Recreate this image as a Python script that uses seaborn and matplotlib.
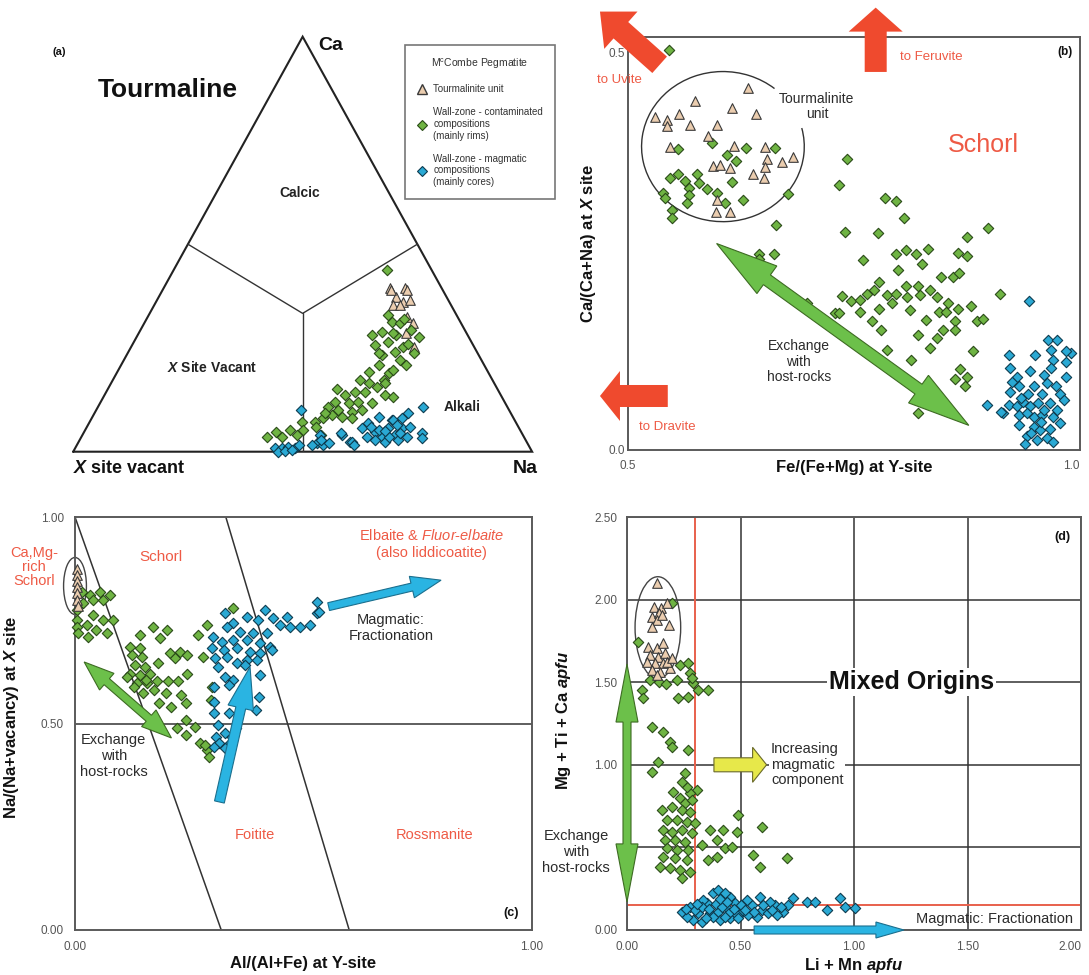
import numpy as np
import matplotlib
matplotlib.use("Agg")
import matplotlib.pyplot as plt
import seaborn as sns
from matplotlib.patches import Polygon, Ellipse, Arc
from matplotlib.lines import Line2D
from matplotlib.transforms import IdentityTransform
from matplotlib.ticker import FixedLocator, FormatStrFormatter

sns.set_style("white")
plt.rcParams["font.family"] = ["Liberation Sans", "DejaVu Sans"]
plt.rcParams["mathtext.fontset"] = "custom"
plt.rcParams["mathtext.rm"] = "Liberation Sans"
plt.rcParams["mathtext.it"] = "Liberation Sans:italic"
plt.rcParams["mathtext.bf"] = "Liberation Sans:bold"
plt.rcParams["mathtext.bfit"] = "Liberation Sans:italic:bold"

# ---------------------------------------------------------------- data
# (a) X-site ternary: Ca and Na fractions (vacancy = 1 - Ca - Na)
a_tour_ca = [0.394, 0.394, 0.373, 0.361, 0.353, 0.390, 0.390, 0.366, 0.353, 0.325, 0.309, 0.285, 0.253]
a_tour_na = [0.493, 0.526, 0.518, 0.539, 0.521, 0.498, 0.532, 0.552, 0.536, 0.565, 0.585, 0.582, 0.617]
a_cont_ca = [0.438, 0.281, 0.289, 0.313, 0.309, 0.281, 0.265, 0.257, 0.233, 0.241, 0.221, 0.209, 0.189, 0.193,
             0.173, 0.165, 0.157, 0.173, 0.145, 0.145, 0.137, 0.137, 0.120, 0.117, 0.120, 0.117, 0.108, 0.100,
             0.096, 0.100, 0.088, 0.084, 0.080, 0.080, 0.072, 0.072, 0.052, 0.040, 0.052, 0.048, 0.036, 0.036,
             0.040, 0.093, 0.285, 0.293, 0.277, 0.253, 0.237, 0.197, 0.237, 0.165, 0.133, 0.210, 0.260, 0.320,
             0.330, 0.150, 0.060]
a_cont_na = [0.464, 0.510, 0.528, 0.538, 0.558, 0.564, 0.554, 0.529, 0.556, 0.581, 0.602, 0.561, 0.593, 0.547,
             0.539, 0.561, 0.583, 0.590, 0.542, 0.564, 0.611, 0.524, 0.511, 0.542, 0.561, 0.592, 0.502, 0.528,
             0.559, 0.579, 0.519, 0.543, 0.567, 0.505, 0.491, 0.462, 0.475, 0.467, 0.446, 0.419, 0.404, 0.436,
             0.521, 0.502, 0.554, 0.589, 0.616, 0.593, 0.625, 0.598, 0.547, 0.598, 0.630, 0.620, 0.600, 0.560,
             0.520, 0.500, 0.500]
a_mag_ca = [0.100, 0.010, 0.008, 0.012, 0.008, 0.000, 0.002, 0.004, 0.016, 0.020, 0.016, 0.040, 0.040, 0.024,
            0.056, 0.036, 0.048, 0.036, 0.056, 0.040, 0.056, 0.076, 0.080, 0.028, 0.024, 0.028, 0.036, 0.093,
            0.108, 0.060, 0.044, 0.032, 0.044, 0.036, 0.052, 0.068, 0.084, 0.076, 0.016, 0.028, 0.020, 0.044,
            0.024, 0.016, 0.060, 0.050, 0.064]
a_mag_na = [0.446, 0.435, 0.451, 0.463, 0.479, 0.447, 0.461, 0.474, 0.483, 0.521, 0.537, 0.518, 0.565, 0.591,
            0.601, 0.622, 0.634, 0.654, 0.659, 0.681, 0.688, 0.656, 0.676, 0.644, 0.667, 0.694, 0.709, 0.682,
            0.709, 0.705, 0.737, 0.743, 0.690, 0.671, 0.640, 0.608, 0.624, 0.659, 0.513, 0.527, 0.547, 0.562,
            0.595, 0.603, 0.620, 0.655, 0.673]

# (b) Fe/(Fe+Mg) at Y vs Ca/(Ca+Na) at X
b_tour_fe = [0.633, 0.574, 0.615, 0.642, 0.530, 0.556, 0.543, 0.543, 0.569, 0.598, 0.588, 0.546, 0.617,
             0.652, 0.654, 0.670, 0.682, 0.594, 0.602, 0.613, 0.638, 0.650, 0.652, 0.598, 0.597, 0.613]
b_tour_ca = [0.456, 0.440, 0.431, 0.423, 0.419, 0.423, 0.416, 0.408, 0.409, 0.409, 0.395, 0.382, 0.383,
             0.381, 0.367, 0.363, 0.369, 0.357, 0.359, 0.355, 0.348, 0.342, 0.356, 0.315, 0.300, 0.300]
b_cont_fe = [0.545, 0.555, 0.593, 0.631, 0.663, 0.610, 0.620, 0.555, 0.546, 0.576,
             0.563, 0.578, 0.568, 0.587, 0.539, 0.598, 0.541, 0.568, 0.565, 0.615,
             0.607, 0.627, 0.677, 0.549, 0.549, 0.664, 0.742, 0.733, 0.740, 0.645,
             0.661, 0.645, 0.760, 0.698, 0.729, 0.821, 0.784, 0.797, 0.805, 0.777,
             0.875, 0.898, 0.797, 0.808, 0.819, 0.832, 0.825, 0.865, 0.875, 0.799,
             0.846, 0.860, 0.866, 0.778, 0.772, 0.807, 0.821, 0.834, 0.737, 0.747,
             0.757, 0.764, 0.786, 0.797, 0.809, 0.823, 0.842, 0.854, 0.865, 0.879,
             0.912, 0.733, 0.757, 0.778, 0.792, 0.812, 0.830, 0.844, 0.852, 0.770,
             0.780, 0.821, 0.862, 0.862, 0.886, 0.893, 0.849, 0.842, 0.834, 0.786,
             0.813, 0.882, 0.867, 0.862, 0.873, 0.875]
b_cont_ca = [0.504, 0.379, 0.387, 0.380, 0.380, 0.372, 0.364, 0.348, 0.342, 0.348,
             0.339, 0.336, 0.330, 0.328, 0.323, 0.323, 0.317, 0.321, 0.311, 0.337,
             0.311, 0.315, 0.322, 0.302, 0.292, 0.283, 0.366, 0.334, 0.275, 0.247,
             0.247, 0.240, 0.239, 0.185, 0.172, 0.046, 0.317, 0.314, 0.292, 0.273,
             0.268, 0.280, 0.247, 0.252, 0.247, 0.253, 0.234, 0.248, 0.244, 0.227,
             0.218, 0.218, 0.223, 0.211, 0.202, 0.206, 0.206, 0.201, 0.194, 0.187,
             0.189, 0.197, 0.195, 0.197, 0.193, 0.195, 0.193, 0.185, 0.178, 0.181,
             0.197, 0.173, 0.174, 0.177, 0.185, 0.176, 0.164, 0.174, 0.174, 0.162,
             0.151, 0.145, 0.162, 0.151, 0.162, 0.165, 0.151, 0.141, 0.128, 0.126,
             0.113, 0.125, 0.102, 0.090, 0.080, 0.092]
b_mag_fe = [0.944, 0.965, 0.975, 0.968, 0.970, 0.985, 0.921, 0.923, 0.930, 0.933,
            0.943, 0.949, 0.958, 0.963, 0.974, 0.978, 0.982, 0.897, 0.915, 0.921,
            0.930, 0.937, 0.945, 0.954, 0.967, 0.933, 0.941, 0.949, 0.958, 0.970,
            0.978, 0.932, 0.949, 0.956, 0.967, 0.941, 0.952, 0.963, 0.939, 0.970,
            0.913, 0.923, 0.968, 0.984, 0.990, 0.925, 0.945, 0.960, 0.950, 0.935,
            0.960, 0.975, 0.985, 0.957, 0.946]
b_mag_ca = [0.188, 0.139, 0.139, 0.126, 0.113, 0.111, 0.120, 0.103, 0.092, 0.080,
            0.071, 0.080, 0.071, 0.084, 0.080, 0.071, 0.063, 0.057, 0.046, 0.057,
            0.055, 0.061, 0.055, 0.059, 0.059, 0.044, 0.046, 0.042, 0.044, 0.042,
            0.034, 0.031, 0.029, 0.025, 0.027, 0.017, 0.013, 0.015, 0.008, 0.010,
            0.048, 0.073, 0.103, 0.092, 0.122, 0.085, 0.100, 0.095, 0.120, 0.065,
            0.050, 0.050, 0.125, 0.035, 0.022]

# (c) Al/(Al+Fe) at Y vs Na/(Na+vacancy) at X
c_tour_al = [0.004, 0.004, 0.004, 0.005, 0.005, 0.005, 0.006]
c_tour_na = [0.875, 0.860, 0.845, 0.830, 0.815, 0.800, 0.785]
c_cont_al = [0.015, 0.033, 0.055, 0.077, 0.018, 0.040, 0.062, 0.004, 0.040, 0.062, 0.084, 0.005, 0.004,
             0.026, 0.047, 0.069, 0.007, 0.029, 0.142, 0.171, 0.201, 0.186, 0.120, 0.142, 0.124, 0.146,
             0.131, 0.153, 0.120, 0.142, 0.164, 0.182, 0.208, 0.219, 0.230, 0.244, 0.244, 0.204, 0.226,
             0.135, 0.157, 0.179, 0.270, 0.288, 0.281, 0.299, 0.346, 0.242, 0.184, 0.211, 0.242, 0.262,
             0.242, 0.274, 0.289, 0.293, 0.285, 0.223, 0.199, 0.231, 0.149, 0.297, 0.113, 0.129, 0.172,
             0.156]
c_cont_na = [0.819, 0.811, 0.819, 0.811, 0.791, 0.799, 0.799, 0.775, 0.763, 0.751, 0.751, 0.751, 0.734,
             0.738, 0.726, 0.718, 0.718, 0.710, 0.714, 0.734, 0.726, 0.706, 0.686, 0.682, 0.666, 0.662,
             0.642, 0.637, 0.621, 0.617, 0.621, 0.646, 0.670, 0.658, 0.674, 0.666, 0.621, 0.602, 0.602,
             0.597, 0.597, 0.602, 0.714, 0.738, 0.662, 0.589, 0.779, 0.549, 0.549, 0.541, 0.508, 0.492,
             0.472, 0.452, 0.436, 0.420, 0.448, 0.488, 0.573, 0.569, 0.573, 0.557, 0.613, 0.589, 0.581,
             0.605]
c_mag_al = [0.328, 0.346, 0.376, 0.416, 0.401, 0.434, 0.463, 0.492, 0.514, 0.529, 0.529, 0.449, 0.470,
            0.332, 0.361, 0.390, 0.420, 0.303, 0.321, 0.346, 0.376, 0.405, 0.427, 0.299, 0.325, 0.354,
            0.383, 0.405, 0.306, 0.332, 0.354, 0.376, 0.398, 0.328, 0.346, 0.405, 0.372, 0.535, 0.395,
            0.305, 0.402, 0.305, 0.336, 0.313, 0.352, 0.309, 0.328, 0.344, 0.316, 0.340, 0.305, 0.328,
            0.305, 0.336, 0.430, 0.313]
c_mag_na = [0.767, 0.743, 0.759, 0.775, 0.751, 0.755, 0.759, 0.734, 0.738, 0.795, 0.767, 0.738, 0.734,
            0.734, 0.722, 0.718, 0.718, 0.710, 0.698, 0.702, 0.702, 0.694, 0.686, 0.682, 0.678, 0.682,
            0.674, 0.670, 0.658, 0.662, 0.646, 0.654, 0.654, 0.613, 0.605, 0.617, 0.642, 0.771, 0.533,
            0.553, 0.565, 0.525, 0.525, 0.496, 0.488, 0.468, 0.476, 0.468, 0.452, 0.452, 0.444, 0.440,
            0.589, 0.593, 0.678, 0.637]

# (d) Li + Mn apfu vs Mg + Ti + Ca apfu
d_tour_limn = [0.133, 0.118, 0.148, 0.177, 0.111, 0.140, 0.133, 0.185, 0.155, 0.109, 0.094, 0.131, 0.160,
               0.101, 0.138, 0.167, 0.087, 0.123, 0.160, 0.189, 0.109, 0.145, 0.175, 0.131, 0.197]
d_tour_mgtica = [2.098, 1.957, 1.947, 1.977, 1.896, 1.916, 1.876, 1.846, 1.906, 1.836, 1.715, 1.705, 1.735,
                 1.665, 1.654, 1.675, 1.624, 1.614, 1.614, 1.584, 1.574, 1.564, 1.624, 1.544, 1.645]
d_cont_limn = [0.050, 0.199, 0.065, 0.101, 0.072, 0.219, 0.233, 0.270, 0.278, 0.292, 0.314, 0.358, 0.226,
               0.270, 0.285, 0.109, 0.160, 0.189, 0.197, 0.270, 0.138, 0.109, 0.256, 0.307, 0.278, 0.233,
               0.256, 0.285, 0.153, 0.197, 0.241, 0.278, 0.175, 0.219, 0.263, 0.300, 0.160, 0.197, 0.241,
               0.285, 0.167, 0.211, 0.256, 0.329, 0.175, 0.219, 0.270, 0.160, 0.211, 0.263, 0.145, 0.189,
               0.233, 0.278, 0.241, 0.366, 0.395, 0.424, 0.490, 0.432, 0.461, 0.483, 0.358, 0.395, 0.556,
               0.586, 0.593, 0.704, 0.204, 0.263, 0.241, 0.140, 0.170]
d_cont_mgtica = [1.745, 1.977, 1.453, 1.513, 1.402, 1.513, 1.604, 1.614, 1.554, 1.493, 1.453, 1.453, 1.402,
                 1.412, 1.523, 1.231, 1.200, 1.140, 1.110, 1.090, 1.019, 0.958, 0.949, 0.848, 0.828, 0.797,
                 0.767, 0.787, 0.726, 0.746, 0.726, 0.716, 0.666, 0.666, 0.656, 0.646, 0.605, 0.595, 0.605,
                 0.585, 0.545, 0.545, 0.535, 0.515, 0.494, 0.484, 0.484, 0.444, 0.434, 0.424, 0.383, 0.373,
                 0.363, 0.353, 0.313, 0.605, 0.545, 0.605, 0.696, 0.494, 0.504, 0.595, 0.424, 0.444, 0.454,
                 0.383, 0.625, 0.434, 0.837, 0.868, 0.898, 1.500, 1.490]
d_mag_limn = [0.241, 0.278, 0.314, 0.351, 0.380, 0.402, 0.417, 0.366, 0.402, 0.439, 0.454, 0.476, 0.505,
              0.534, 0.549, 0.586, 0.593, 0.622, 0.652, 0.689, 0.733, 0.791, 0.880, 0.292, 0.329, 0.410,
              0.454, 0.336, 0.483, 0.527, 0.571, 0.659, 0.711, 0.432, 0.630, 0.263, 0.937, 0.960, 1.004,
              0.826, 0.300, 0.330, 0.360, 0.390, 0.420, 0.450, 0.470, 0.500, 0.520, 0.560, 0.600, 0.640,
              0.680, 0.380, 0.350, 0.430, 0.490, 0.260, 0.310, 0.410, 0.440]
d_mag_mgtica = [0.111, 0.141, 0.101, 0.161, 0.222, 0.242, 0.182, 0.101, 0.111, 0.131, 0.202, 0.161, 0.111,
                0.091, 0.151, 0.202, 0.121, 0.101, 0.151, 0.111, 0.192, 0.171, 0.121, 0.061, 0.050, 0.061,
                0.071, 0.182, 0.091, 0.182, 0.081, 0.091, 0.151, 0.222, 0.171, 0.081, 0.192, 0.141, 0.131,
                0.171, 0.120, 0.140, 0.130, 0.160, 0.140, 0.100, 0.130, 0.150, 0.120, 0.110, 0.150, 0.120,
                0.140, 0.080, 0.070, 0.080, 0.070, 0.130, 0.160, 0.190, 0.170]

# axis ticks
b_xticks = [0.5, 1.0]
b_yticks = [0.0, 0.5]
c_xticks = [0.0, 1.0]
c_yticks = [0.0, 0.5, 1.0]
d_xticks = [0.0, 0.5, 1.0, 1.5, 2.0]
d_yticks = [0.0, 0.5, 1.0, 1.5, 2.0, 2.5]

# ---------------------------------------------------------------- styles
GREEN_FC, GREEN_EC = "#6fb443", "#2a4a18"
BLUE_FC, BLUE_EC = "#2aa9d4", "#0d3b4f"
TRI_FC, TRI_EC = "#ebcdaf", "#3a3a3a"
RED = "#ef4a2e"
RED_TXT = "#ee5a45"
TXT = "#2b2b2b"

STYLES = {
    "cont": dict(marker="D", s=28, fc=GREEN_FC, ec=GREEN_EC),
    "mag": dict(marker="D", s=28, fc=BLUE_FC, ec=BLUE_EC),
    "tour": dict(marker="^", s=48, fc=TRI_FC, ec=TRI_EC),
}


def draw_points(ax, x, y, kind, z=3):
    st = STYLES[kind]
    sns.scatterplot(x=np.asarray(x, float), y=np.asarray(y, float), ax=ax, marker=st["marker"],
                    s=st["s"], color=st["fc"], edgecolor=st["ec"], linewidth=0.8,
                    legend=False, zorder=z, clip_on=False)


def block_arrow(ax, start, end, shaft, head_w, head_len, fc, ec="none", lw=0.8, double=False, z=4):
    """Filled block arrow between two data points; widths are in pixels."""
    p0 = ax.transData.transform(start)
    p1 = ax.transData.transform(end)
    d = p1 - p0
    u = d / np.hypot(*d)
    n = np.array([-u[1], u[0]])
    hs, hw = shaft / 2.0, head_w / 2.0
    b1 = p1 - u * head_len
    if double:
        b0 = p0 + u * head_len
        pts = [p0, b0 + n * hw, b0 + n * hs, b1 + n * hs, b1 + n * hw, p1,
               b1 - n * hw, b1 - n * hs, b0 - n * hs, b0 - n * hw]
    else:
        pts = [p0 + n * hs, b1 + n * hs, b1 + n * hw, p1, b1 - n * hw, b1 - n * hs, p0 - n * hs]
    ax.figure.add_artist(Polygon(np.array(pts), closed=True, transform=IdentityTransform(),
                                 facecolor=fc, edgecolor=ec, linewidth=lw, zorder=z))


def style_axes(ax, xt, yt, fmt, xpad=7, ypad=7):
    ax.xaxis.set_major_locator(FixedLocator(xt))
    ax.yaxis.set_major_locator(FixedLocator(yt))
    ax.xaxis.set_major_formatter(FormatStrFormatter(fmt))
    ax.yaxis.set_major_formatter(FormatStrFormatter(fmt))
    ax.tick_params(axis="both", length=0, labelsize=8.5, labelcolor="#555555")
    ax.tick_params(axis="x", pad=xpad)
    ax.tick_params(axis="y", pad=ypad)
    for sp in ax.spines.values():
        sp.set_color("#5a5a5a")
        sp.set_linewidth(1.4)


def tern(ca, na):
    ca = np.asarray(ca, float)
    na = np.asarray(na, float)
    return na + 0.5 * ca, ca


fig = plt.figure(figsize=(10.89, 9.75), dpi=100)
W, H = 1089.0, 975.0
ax_a = fig.add_axes([73.2 / W, 1 - 451.7 / H, 458.9 / W, 415 / H])
ax_b = fig.add_axes([628 / W, 1 - 450 / H, 452 / W, 413 / H])
ax_c = fig.add_axes([75 / W, 1 - 930 / H, 457 / W, 413 / H])
ax_d = fig.add_axes([627 / W, 1 - 930 / H, 454 / W, 413 / H])

# ---------------------------------------------------------------- (a) ternary
ax_a.set_xlim(0, 1)
ax_a.set_ylim(0, 1)
ax_a.axis("off")
ox, oy = tern([0, 1, 0, 0], [0, 0, 1, 0])
ax_a.plot(ox, oy, color="#222222", lw=1.5, solid_joinstyle="miter", clip_on=False)
fx, fy = tern([0.5, 1 / 3, 0.5], [0.0, 1 / 3, 0.5])
ax_a.plot(fx, fy, color="#333333", lw=1.0)
vx, vy = tern([1 / 3, 0.0], [1 / 3, 0.5])
ax_a.plot(vx, vy, color="#333333", lw=1.0)

x, y = tern(a_cont_ca, a_cont_na)
draw_points(ax_a, x, y, "cont")
x, y = tern(a_mag_ca, a_mag_na)
draw_points(ax_a, x, y, "mag")
x, y = tern(a_tour_ca, a_tour_na)
draw_points(ax_a, x, y, "tour", z=2.5)

ax_a.text(0.535, 0.98, "Ca", fontsize=14, fontweight="bold", ha="left", va="center", color="#111")
ax_a.text(0.0, -0.04, r"$\mathbfit{X}$ site vacant", fontsize=13, fontweight="bold",
          ha="left", va="center", color="#111")
ax_a.text(0.985, -0.04, "Na", fontsize=14, fontweight="bold", ha="center", va="center", color="#111")
ax_a.text(0.207, 0.872, "Tourmaline", fontsize=19, fontweight="bold", ha="center", va="center", color="#111")
ax_a.text(-0.031, 0.963, "(a)", fontsize=8, fontweight="bold", ha="center", va="center", color="#111")
ax_a.text(0.494, 0.623, "Calcic", fontsize=10, fontweight="bold", ha="center", va="center", color="#222")
ax_a.text(0.302, 0.204, r"$\mathbfit{X}$ Site Vacant", fontsize=10, fontweight="bold",
          ha="center", va="center", color="#222")
ax_a.text(0.848, 0.108, "Alkali", fontsize=10, fontweight="bold", ha="center", va="center", color="#222")

handles = [Line2D([], [], marker="^", ls="none", mfc=TRI_FC, mec=TRI_EC, ms=7, mew=1.0),
           Line2D([], [], marker="D", ls="none", mfc=GREEN_FC, mec=GREEN_EC, ms=5, mew=0.8),
           Line2D([], [], marker="D", ls="none", mfc=BLUE_FC, mec=BLUE_EC, ms=5, mew=0.8)]
labels = ["Tourmalinite unit",
          "Wall-zone - contaminated\ncompositions\n(mainly rims)",
          "Wall-zone - magmatic\ncompositions\n(mainly cores)"]
leg = fig.legend(handles, labels, title=r"M$^{\mathrm{c}}$Combe Pegmatite", loc="upper left",
                 bbox_to_anchor=(405 / W, 1 - 45 / H), frameon=True, fancybox=False,
                 edgecolor="#555555", fontsize=7, title_fontsize=7.5, handletextpad=0.7,
                 labelspacing=1.35, borderpad=1.2, handlelength=1.0, borderaxespad=0)
leg.get_frame().set_linewidth(1.2)
for t in leg.get_texts():
    t.set_color("#333333")
leg.get_title().set_color("#333333")

# ---------------------------------------------------------------- (b)
ax_b.set_xlim(0.5, 1.0)
ax_b.set_ylim(0.0, 0.52)
style_axes(ax_b, b_xticks, b_yticks, "%.1f", xpad=7, ypad=2)
draw_points(ax_b, b_cont_fe, b_cont_ca, "cont")
draw_points(ax_b, b_mag_fe, b_mag_ca, "mag")
draw_points(ax_b, b_tour_fe, b_tour_ca, "tour", z=3.5)
ax_b.set_xlabel("Fe/(Fe+Mg) at Y-site", fontsize=12, fontweight="bold", color="#111")
ax_b.xaxis.set_label_coords(0.5, -0.025)
ax_b.set_ylabel(r"Ca/(Ca+Na) at $\mathbfit{X}$ site", fontsize=12, fontweight="bold", color="#111")
ax_b.yaxis.set_label_coords(-0.066, 0.5)
ax_b.xaxis.get_major_ticks()[-1].label1.set_horizontalalignment("right")
ax_b.add_patch(Arc((0.605, 0.382), 0.180, 0.189, theta1=52, theta2=15, color="#333333", lw=1.0))
ax_b.text(0.709, 0.432, "Tourmalinite\nunit", fontsize=10, ha="center", va="center", color=TXT,
          linespacing=1.1)
ax_b.text(0.893, 0.384, "Schorl", fontsize=18, ha="center", va="center", color=RED_TXT)
ax_b.text(0.983, 0.501, "(b)", fontsize=8.5, fontweight="bold", ha="center", va="center", color="#111")
ax_b.text(0.689, 0.111, "Exchange\nwith\nhost-rocks", fontsize=10, ha="center", va="center",
          color=TXT, linespacing=1.15)
ax_b.text(0.490, 0.466, "to Uvite", fontsize=9.5, ha="center", va="center", color=RED_TXT)
ax_b.text(0.835, 0.495, "to Feruvite", fontsize=9.5, ha="center", va="center", color=RED_TXT)
ax_b.text(0.544, 0.029, "to Dravite", fontsize=9.5, ha="center", va="center", color=RED_TXT)
block_arrow(ax_b, (0.598, 0.260), (0.877, 0.031), 12, 34, 62, "#6cc04a", "#3d6b22", 0.8, double=True)
block_arrow(ax_b, (0.535, 0.485), (0.469, 0.552), 22, 50, 28, RED)
block_arrow(ax_b, (0.774, 0.476), (0.774, 0.557), 22, 54, 24, RED)
block_arrow(ax_b, (0.544, 0.068), (0.469, 0.068), 22, 50, 20, RED)

# ---------------------------------------------------------------- (c)
ax_c.set_xlim(0, 1)
ax_c.set_ylim(0, 1)
style_axes(ax_c, c_xticks, c_yticks, "%.2f", xpad=8, ypad=8)
ax_c.plot([0.0, 0.32], [1.0, 0.0], color="#333333", lw=1.1)
ax_c.plot([0.33, 0.60], [1.0, 0.0], color="#333333", lw=1.1)
ax_c.axhline(0.5, color="#333333", lw=1.1)
draw_points(ax_c, c_cont_al, c_cont_na, "cont")
draw_points(ax_c, c_mag_al, c_mag_na, "mag")
draw_points(ax_c, c_tour_al, c_tour_na, "tour", z=3.5)
ax_c.add_patch(Ellipse((0.0, 0.833), 0.05, 0.138, fill=False, ec="#444444", lw=1.0, clip_on=False))
ax_c.set_xlabel("Al/(Al+Fe) at Y-site", fontsize=12, fontweight="bold", color="#111")
ax_c.xaxis.set_label_coords(0.5, -0.062)
ax_c.set_ylabel(r"Na/(Na+vacancy) at $\mathbfit{X}$ site", fontsize=12, fontweight="bold", color="#111")
ax_c.yaxis.set_label_coords(-0.118, 0.516)
ax_c.text(-0.09, 0.879, "Ca,Mg-\nrich\nSchorl", fontsize=10.5, ha="center", va="center",
          color=RED_TXT, linespacing=1.0)
ax_c.text(0.188, 0.903, "Schorl", fontsize=11, ha="center", va="center", color=RED_TXT)
ax_c.text(0.781, 0.956, r"Elbaite & $\mathit{Fluor}$-$\mathit{elbaite}$", fontsize=10.5, ha="center",
          va="center", color=RED_TXT)
ax_c.text(0.781, 0.913, "(also liddicoatite)", fontsize=10.5, ha="center", va="center", color=RED_TXT)
ax_c.text(0.691, 0.731, "Magmatic:\nFractionation", fontsize=10.5, ha="center", va="center",
          color=TXT, linespacing=1.15)
ax_c.text(0.085, 0.421, "Exchange\nwith\nhost-rocks", fontsize=10.5, ha="center", va="center",
          color=TXT, linespacing=1.15)
ax_c.text(0.394, 0.230, "Foitite", fontsize=10.5, ha="center", va="center", color=RED_TXT)
ax_c.text(0.786, 0.230, "Rossmanite", fontsize=10.5, ha="center", va="center", color=RED_TXT)
ax_c.text(0.954, 0.041, "(c)", fontsize=9, fontweight="bold", ha="center", va="center", color="#111")
block_arrow(ax_c, (0.020, 0.649), (0.211, 0.465), 8, 22, 30, "#6cc04a", "#3d6b22", 0.8, double=True)
block_arrow(ax_c, (0.316, 0.310), (0.383, 0.637), 10, 26, 42, "#2ab4e2", "#1b6f8e", 0.8)
block_arrow(ax_c, (0.555, 0.783), (0.801, 0.847), 8, 22, 30, "#2ab4e2", "#1b6f8e", 0.8)

# ---------------------------------------------------------------- (d)
ax_d.set_xlim(0, 2.0)
ax_d.set_ylim(0, 2.5)
style_axes(ax_d, d_xticks, d_yticks, "%.2f", xpad=8, ypad=7)
ax_d.xaxis.get_major_ticks()[-1].label1.set_horizontalalignment("right")
# the 0.50 label sits under the "Exchange with host-rocks" note
ax_d.yaxis.get_major_ticks()[1].label1.set_visible(False)
ax_d.grid(True, color="#333333", lw=1.1)
ax_d.axvline(0.3, color="#e8604c", lw=1.4, zorder=1)
ax_d.axhline(0.15, color="#e8604c", lw=1.4, zorder=1)
draw_points(ax_d, d_cont_limn, d_cont_mgtica, "cont")
draw_points(ax_d, d_mag_limn, d_mag_mgtica, "mag")
draw_points(ax_d, d_tour_limn, d_tour_mgtica, "tour", z=3.5)
ax_d.add_patch(Ellipse((0.136, 1.831), 0.201, 0.615, fill=False, ec="#444444", lw=1.0, zorder=2))
ax_d.set_xlabel(r"Li + Mn $\mathbfit{apfu}$", fontsize=12, fontweight="bold", color="#111")
ax_d.xaxis.set_label_coords(0.5, -0.062)
ax_d.set_ylabel(r"Mg + Ti + Ca $\mathbfit{apfu}$", fontsize=12, fontweight="bold", color="#111")
ax_d.yaxis.set_label_coords(-0.118, 0.508)
box = dict(facecolor="white", edgecolor="none", pad=1.5)
ax_d.text(1.255, 1.50, "Mixed Origins", fontsize=18, fontweight="bold", ha="center", va="center",
          color="#111", bbox=box, zorder=2.5)
ax_d.text(0.634, 1.0, "Increasing\nmagmatic\ncomponent", fontsize=10.5, ha="left", va="center",
          color=TXT, bbox=box, zorder=2.5, linespacing=1.15)
ax_d.text(1.963, 0.067, "Magmatic: Fractionation", fontsize=10.5, ha="right", va="center",
          color=TXT, zorder=2.5)
ax_d.text(1.918, 2.381, "(d)", fontsize=9, fontweight="bold", ha="center", va="center", color="#111")
ax_d.text(-0.225, 0.472, "Exchange\nwith\nhost-rocks", fontsize=10.5, ha="center", va="center",
          color=TXT, linespacing=1.15, zorder=3.2, clip_on=False)
block_arrow(ax_d, (0.0, 1.61), (0.0, 0.17), 8, 22, 58, "#6cc04a", "#3d6b22", 0.8, double=True)
block_arrow(ax_d, (0.383, 1.0), (0.615, 1.0), 14, 35, 14, "#e7e84a", "#6a6a2a", 0.8)
block_arrow(ax_d, (0.56, 0.0), (1.22, 0.0), 8, 16, 28, "#2ab4e2", "#1b6f8e", 0.8)

fig.savefig("out.png", dpi=100)
